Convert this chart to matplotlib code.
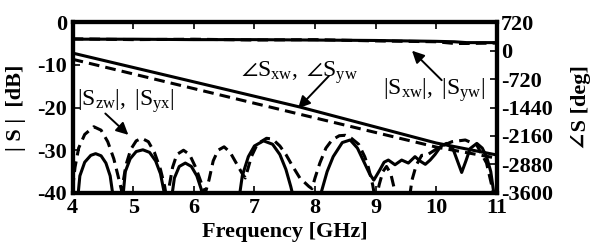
import matplotlib
matplotlib.use("Agg")
import matplotlib.pyplot as plt
from matplotlib.ticker import FuncFormatter

plt.rcParams['font.family'] = ['Liberation Serif', 'DejaVu Serif']
plt.rcParams['mathtext.fontset'] = 'custom'
plt.rcParams['mathtext.rm'] = 'Liberation Serif'
plt.rcParams['mathtext.it'] = 'Liberation Serif:italic'
plt.rcParams['mathtext.bf'] = 'Liberation Serif:bold'
plt.rcParams['mathtext.fallback'] = 'stix'
plt.rcParams['axes.unicode_minus'] = False

# |Sxw|, |Syw| magnitudes (dB)
mag_f = [4.0, 5.0, 6.0, 7.0, 8.0, 9.0, 9.5, 10.0, 10.3, 10.5, 11.0]
mag_solid = [-4.0, -4.0, -4.1, -4.1, -4.2, -4.3, -4.4, -4.5, -4.6, -4.8, -4.8]
mag_dash = [-3.9, -4.1, -4.0, -4.2, -4.1, -4.4, -4.5, -4.6, -5.0, -5.0, -4.9]

# phase of Sxw, Syw (deg)
ph_f_solid = [4.0, 7.75, 10.0, 11.0]
ph_solid = [-63, -1427, -2337, -2640]
ph_f_dash = [4.0, 7.75, 10.0, 11.0]
ph_dash = [-220, -1610, -2440, -2720]

# |Szw|, |Syx| (dB)
iso_f_solid = [4.0, 4.08, 4.12, 4.2, 4.3, 4.38, 4.47, 4.55, 4.62, 4.67, 4.75,
               4.83, 4.87, 4.95, 5.05, 5.16, 5.27, 5.37, 5.45, 5.52, 5.58,
               5.64, 5.68, 5.76, 5.86, 5.96, 6.05, 6.12, 6.17, 6.4,
               6.6, 6.75, 6.8, 6.9, 7.0, 7.15, 7.3, 7.42, 7.52, 7.6, 7.66, 7.9,
               8.05, 8.1, 8.2, 8.3, 8.45, 8.58, 8.7, 8.8, 8.9, 8.97, 9.07, 9.14,
               9.21, 9.32, 9.43, 9.54, 9.65, 9.73, 9.82, 9.9, 9.98, 10.08, 10.17,
               10.28, 10.35, 10.42, 10.49, 10.56, 10.67, 10.76, 10.83, 10.9,
               10.95, 11.0]
iso_solid = [-60, -42, -36, -32.8, -31.2, -30.8, -31.3, -33, -36, -41, -60,
             -41, -35, -32, -30.3, -29.9, -30.5, -32.5, -35.5, -40.5, -60,
             -40.5, -36.5, -33.8, -33, -33.8, -36, -39, -42, -60,
             -60, -41, -36, -31.5, -29, -27.8, -28.6, -31, -34.5, -38.5, -42, -60,
             -50, -40, -35, -31.5, -28.2, -27.6, -29.5, -32.5, -35.5, -37, -34.6, -32.8,
             -32.3, -33.4, -32.3, -33, -31.5, -32.5, -33.3, -32.3, -31, -29, -28.4,
             -29.8, -32.5, -35.2, -32.5, -29.6, -28.4, -29.5, -31.5, -35,
             -40, -48]
iso_f_dash = [4.0, 4.04, 4.1, 4.2, 4.35, 4.47, 4.58, 4.68, 4.75, 4.81,
              4.88, 4.96, 5.05, 5.14, 5.25, 5.35, 5.45, 5.52, 5.56,
              5.6, 5.65, 5.72, 5.83, 5.93, 6.03, 6.12, 6.19,
              6.25, 6.32, 6.4, 6.5, 6.6, 6.7, 6.8, 6.85,
              6.95, 7.05, 7.2, 7.3, 7.42, 7.52, 7.62, 7.75, 7.9, 7.95,
              8.0, 8.08, 8.18, 8.28, 8.4, 8.5, 8.6, 8.72, 8.82, 8.88, 8.95, 9.0,
              9.06, 9.12, 9.18, 9.25, 9.3, 9.35, 9.45, 9.55,
              9.6, 9.67, 9.76, 9.85, 10.06, 10.26, 10.48, 10.67, 10.83, 10.92,
              10.96, 11.0]
iso_dash = [-39, -34, -29.5, -26.3, -24.5, -25.3, -28, -32, -36, -39.5,
            -33.5, -29.8, -27.8, -27.2, -28, -30.5, -34.5, -38.5, -42,
            -38, -34, -31, -30, -31, -34, -37.5, -40,
            -37, -32.5, -30, -29.2, -30.5, -33, -35.5, -36.5,
            -31.5, -28.5, -27.2, -27.4, -29, -31, -33.5, -36.5, -38.5, -39,
            -36.5, -33, -29.5, -27.6, -26.6, -26.5, -27.2, -28.6, -31.5, -34, -38, -42,
            -38, -35, -33.8, -35.5, -38.5, -44, -50, -42,
            -37, -33.5, -31.2, -31.1, -29.2, -28, -27.6, -28.8, -33, -38.5,
            -42, -48]

xticks = [4, 5, 6, 7, 8, 9, 10, 11]
yticks_db = [-40, -30, -20, -10, 0]
yticks_deg = [-3600, -2880, -2160, -1440, -720, 0, 720]

fig = plt.figure(figsize=(5.95, 2.43), dpi=100)
ax = fig.add_axes([0.122, 0.206, 0.713, 0.703])
ax2 = ax.twinx()

lw = 2.2
dash = (3.5, 2.0)
ax.plot(mag_f, mag_solid, color='k', lw=lw)
ax.plot(mag_f, mag_dash, color='k', lw=lw, dashes=dash)
ax.plot(iso_f_solid, iso_solid, color='k', lw=lw)
ax.plot(iso_f_dash, iso_dash, color='k', lw=lw, dashes=dash)
ax2.plot(ph_f_solid, ph_solid, color='k', lw=lw)
ax2.plot(ph_f_dash, ph_dash, color='k', lw=lw, dashes=dash)

ax.set_xlim(4, 11)
ax.set_ylim(-40, 0)
ax2.set_ylim(-3600, 720)
ax.set_xticks(xticks)
ax.set_yticks(yticks_db)
ax2.set_yticks(yticks_deg)

fmt = FuncFormatter(lambda v, p: ('%d' % v).replace('\u2212', '-'))
ax.xaxis.set_major_formatter(fmt)
ax.yaxis.set_major_formatter(fmt)
ax2.yaxis.set_major_formatter(fmt)

tfs = 16
for a in (ax, ax2):
    for s in a.spines.values():
        s.set_linewidth(3)
ax.tick_params(axis='x', which='both', direction='in', top=True, bottom=True,
               length=5, width=1.2, pad=4, labelsize=tfs)
ax.tick_params(axis='y', direction='in', left=True, right=False,
               length=5, width=1.2, pad=4, labelsize=tfs)
ax2.tick_params(axis='y', direction='in', right=True,
                length=5, width=1.2, pad=3, labelsize=tfs)
for lab in ax.get_xticklabels() + ax.get_yticklabels() + ax2.get_yticklabels():
    lab.set_fontweight('bold')

ax.set_xlabel('Frequency [GHz]', fontsize=tfs, fontweight='bold')
ax.xaxis.set_label_coords(0.5, -0.17)
ax.set_ylabel('| S |  [dB]', fontsize=tfs, fontweight='bold')
ax.yaxis.set_label_coords(-0.11, 0.5)
ax2.set_ylabel('\u2220S [deg]', fontsize=tfs, fontweight='bold')
ax2.yaxis.set_label_coords(1.176, 0.5)

afs = 17
ap = dict(arrowstyle='-|>', color='k', lw=1.4, mutation_scale=18, shrinkA=0, shrinkB=0)
ax.text(4.07, -18.4, r'$|\mathrm{S_{zw}}|,\ |\mathrm{S_{yx}}|$', fontsize=afs,
        ha='left', va='center')
ax.annotate('', xy=(4.92, -26.4), xytext=(4.54, -21.4), arrowprops=ap)
ax.text(7.75, -11.9, r'$\angle\mathrm{S_{xw}},\ \angle\mathrm{S_{yw}}$', fontsize=afs,
        ha='center', va='center')
ax.annotate('', xy=(7.72, -20.2), xytext=(8.23, -12.6), arrowprops=ap)
ax.text(9.96, -16.0, r'$|\mathrm{S_{xw}}|,\ |\mathrm{S_{yw}}|$', fontsize=afs,
        ha='center', va='center')
ax.annotate('', xy=(9.60, -6.7), xytext=(10.09, -13.6), arrowprops=ap)

fig.savefig('out.png', dpi=100)
